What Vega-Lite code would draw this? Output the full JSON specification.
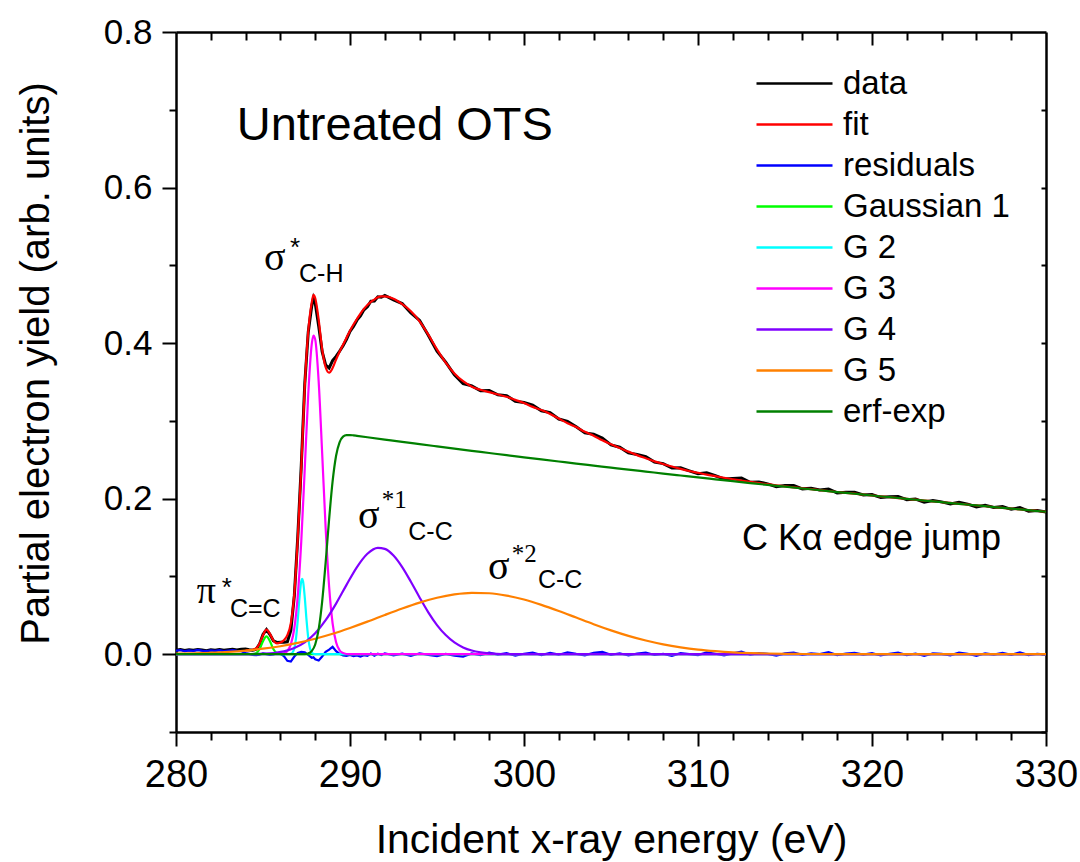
{
  "$schema": "https://vega.github.io/schema/vega-lite/v6.json",
  "width": 870,
  "height": 700,
  "autosize": "none",
  "padding": {"left": 176, "top": 32, "right": 34, "bottom": 130},
  "background": "white",
  "config": {
    "view": {"stroke": null},
    "axis": {"labelFont": "Liberation Sans", "titleFont": "Liberation Sans", "domainColor": "black", "tickColor": "black", "labelColor": "black", "titleColor": "black", "tickWidth": 2, "domainWidth": 2.5, "grid": false, "titleFontWeight": "normal"},
    "text": {"color": "black"}
  },
  "data": {"values": [
    {"x":280,"d":0.0052,"r":0.0047,"g1":0,"g2":0,"g3":0,"g4":0,"g5":0.0007,"e":0},
    {"x":280.25,"d":0.0060,"r":0.0054},
    {"x":280.5,"d":0.0047,"r":0.0041},
    {"x":280.75,"d":0.0056,"r":0.0050},
    {"x":281,"d":0.0050,"r":0.0044,"g5":0.0011},
    {"x":281.25,"d":0.0061,"r":0.0055},
    {"x":281.5,"d":0.0053,"r":0.0046},
    {"x":281.75,"d":0.0046,"r":0.0039},
    {"x":282,"d":0.0058,"r":0.0051,"g5":0.0019},
    {"x":282.25,"d":0.0052,"r":0.0044},
    {"x":282.5,"d":0.0060,"r":0.0052},
    {"x":282.75,"d":0.0050,"r":0.0041},
    {"x":283,"d":0.0057,"r":0.0047,"g5":0.0030},
    {"x":283.25,"d":0.0063,"r":0.0052},
    {"x":283.5,"d":0.0055,"r":0.0042},
    {"x":283.75,"d":0.0064,"r":0.0038},
    {"x":284,"d":0.0066,"f":0.0050,"r":0.0016,"g4":0.0001,"g5":0.0047},
    {"x":284.2,"d":0.0057,"f":0.0053,"r":0.0004,"g1":0},
    {"x":284.4,"d":0.0050,"f":0.0058,"r":-0.0008,"g1":0.0001},
    {"x":284.6,"d":0.0063,"f":0.0075,"r":-0.0012,"g1":0.0013},
    {"x":284.8,"d":0.0129,"f":0.0135,"r":-0.0006,"g1":0.0064},
    {"x":285,"d":0.0255,"f":0.0245,"r":0.0010,"g1":0.0167,"g4":0.0007,"g5":0.0071},
    {"x":285.2,"d":0.0317,"f":0.0315,"r":0.0002,"g1":0.023},
    {"x":285.4,"d":0.0252,"f":0.0262,"r":-0.0010,"g1":0.0167},
    {"x":285.6,"d":0.0171,"f":0.0175,"r":-0.0004,"g1":0.0064,"g4":0.0016},
    {"x":285.8,"d":0.0152,"f":0.0140,"r":0.0012,"g1":0.0013,"g3":0},
    {"x":286,"d":0.0155,"f":0.0150,"r":0.0005,"g1":0.0001,"g3":0.0003,"g5":0.0103},
    {"x":286.2,"d":0.0155,"f":0.0180,"r":-0.0025,"g1":0,"g3":0.0011,"g4":0.0037},
    {"x":286.4,"d":0.0160,"f":0.0245,"r":-0.0085,"g2":0,"g3":0.0040},
    {"x":286.6,"d":0.0305,"f":0.0400,"r":-0.0095,"g2":0.0005,"g3":0.0126},
    {"x":286.7,"g2":0.0022},
    {"x":286.8,"d":0.0750,"f":0.0780,"r":-0.0030,"g2":0.0077,"g3":0.0334,"g4":0.0079},
    {"x":286.9,"g2":0.0210},
    {"x":287,"d":0.1515,"f":0.1500,"r":0.0015,"g2":0.0444,"g3":0.0754,"g5":0.0146},
    {"x":287.1,"g2":0.0732},
    {"x":287.2,"d":0.2430,"f":0.2400,"r":0.0030,"g2":0.0940,"g3":0.1454,"e":0},
    {"x":287.25,"g2":0.097},
    {"x":287.3,"g2":0.0940},
    {"x":287.4,"d":0.3475,"f":0.3450,"r":0.0025,"g2":0.0732,"g3":0.2386,"g4":0.0152,"e":0.0002},
    {"x":287.5,"g2":0.0444},
    {"x":287.6,"d":0.4140,"f":0.4150,"r":-0.0010,"g2":0.0210,"g3":0.3340,"e":0.0010},
    {"x":287.7,"g2":0.0077},
    {"x":287.8,"d":0.4475,"f":0.4520,"r":-0.0045,"g2":0.0022,"g3":0.3984,"e":0.0039},
    {"x":287.9,"d":0.4580,"f":0.4620,"r":-0.0040,"g2":0.0005,"g3":0.4097},
    {"x":288,"d":0.4515,"f":0.4580,"r":-0.0065,"g2":0.0001,"g3":0.4048,"g4":0.0269,"g5":0.0199,"e":0.0125},
    {"x":288.2,"d":0.4220,"f":0.4300,"r":-0.0080,"g2":0,"g3":0.3505,"e":0.0322},
    {"x":288.4,"d":0.3890,"f":0.3920,"r":-0.0030,"g3":0.2586,"e":0.0677},
    {"x":288.6,"d":0.3720,"f":0.3690,"r":0.0030,"g3":0.1626,"g4":0.0437,"e":0.1179},
    {"x":288.8,"d":0.3680,"f":0.3620,"r":0.0060,"g3":0.0871,"e":0.1736},
    {"x":289,"d":0.3775,"f":0.3680,"r":0.0095,"g3":0.0398,"g5":0.0263,"e":0.2221},
    {"x":289.2,"d":0.3830,"f":0.3790,"r":0.0040,"g3":0.0155,"g4":0.0651,"e":0.2552},
    {"x":289.4,"d":0.3895,"f":0.3890,"r":0.0005,"g3":0.0051,"e":0.2725},
    {"x":289.6,"d":0.3965,"f":0.3980,"r":-0.0015,"g3":0.0015,"e":0.2798},
    {"x":289.8,"d":0.4050,"f":0.4070,"r":-0.0020,"g3":0.0003,"g4":0.0892,"e":0.2818},
    {"x":290,"d":0.4150,"f":0.4160,"r":-0.0010,"g3":0,"g5":0.0338,"e":0.2818},
    {"x":290.2,"d":0.4215,"f":0.4240,"r":-0.0025,"e":0.2814},
    {"x":290.4,"d":0.4295,"f":0.4310,"r":-0.0015,"g4":0.1121,"e":0.2808},
    {"x":290.6,"d":0.4350,"f":0.4380,"r":-0.0030},
    {"x":290.8,"d":0.4428,"f":0.4440,"r":-0.0012},
    {"x":291,"d":0.4468,"f":0.4490,"r":-0.0022,"g4":0.1292,"g5":0.0419,"e":0.2790},
    {"x":291.2,"d":0.4538,"f":0.4530,"r":0.0008},
    {"x":291.4,"d":0.4542,"f":0.4560,"r":-0.0018},
    {"x":291.6,"d":0.4596,"f":0.4590,"r":0.0006,"g4":0.1368},
    {"x":291.8,"d":0.4590,"f":0.4600,"r":-0.0010},
    {"x":292,"d":0.4612,"f":0.4600,"r":0.0012,"g4":0.1355,"g5":0.0505,"e":0.2760},
    {"x":292.5,"d":0.4555,"f":0.457,"r":-0.0015,"g4":0.1270},
    {"x":293,"d":0.4508,"f":0.450,"r":0.0008,"g4":0.1121,"g5":0.0588,"e":0.2730},
    {"x":293.5,"d":0.4388,"f":0.441,"r":-0.0022,"g4":0.0932},
    {"x":294,"d":0.4292,"f":0.428,"r":0.0012,"g4":0.0730,"g5":0.0664,"e":0.2701},
    {"x":294.5,"d":0.4102,"f":0.411,"r":-0.0008,"g4":0.0539},
    {"x":295,"d":0.3895,"f":0.392,"r":-0.0025,"g4":0.0375,"g5":0.0726,"e":0.2672},
    {"x":295.5,"d":0.3755,"f":0.375,"r":0.0005,"g4":0.0246},
    {"x":296,"d":0.3592,"f":0.361,"r":-0.0018,"g4":0.0152,"g5":0.0769,"e":0.2643},
    {"x":296.5,"d":0.3480,"f":0.351,"r":-0.0030,"g4":0.0088},
    {"x":297,"d":0.3450,"f":0.344,"r":0.0010,"g4":0.0048,"g5":0.0789,"e":0.2615},
    {"x":297.5,"d":0.3388,"f":0.340,"r":-0.0012,"g4":0.0025},
    {"x":298,"d":0.3390,"f":0.337,"r":0.0020,"g4":0.0012,"g5":0.0784,"e":0.2587},
    {"x":298.5,"d":0.3335,"f":0.334,"r":-0.0005},
    {"x":299,"d":0.3324,"f":0.331,"r":0.0014,"g4":0.0002,"g5":0.0754,"e":0.2559},
    {"x":299.5,"d":0.3252,"f":0.327,"r":-0.0018},
    {"x":300,"d":0.3236,"f":0.323,"r":0.0006,"g4":0,"g5":0.0703,"e":0.2532},
    {"x":300.5,"d":0.3202,"f":0.318,"r":0.0022},
    {"x":301,"d":0.3130,"f":0.314,"r":-0.0010,"g5":0.0635,"e":0.2505},
    {"x":301.5,"d":0.3106,"f":0.309,"r":0.0016},
    {"x":302,"d":0.3024,"f":0.303,"r":-0.0006,"g5":0.0556,"e":0.2478},
    {"x":302.5,"d":0.2995,"f":0.297,"r":0.0025},
    {"x":303,"d":0.2924,"f":0.292,"r":0.0004,"g5":0.0471,"e":0.2451},
    {"x":303.5,"d":0.2846,"f":0.286,"r":-0.0014},
    {"x":304,"d":0.2828,"f":0.281,"r":0.0018,"g5":0.0386,"e":0.2425},
    {"x":304.5,"d":0.2780,"f":0.275,"r":0.0030},
    {"x":305,"d":0.2692,"f":0.270,"r":-0.0008,"g5":0.0307,"e":0.2399},
    {"x":305.5,"d":0.2662,"f":0.265,"r":0.0012},
    {"x":306,"d":0.2589,"f":0.2605,"r":-0.0016,"g5":0.0236,"e":0.2373},
    {"x":306.5,"d":0.2568,"f":0.256,"r":0.0008},
    {"x":307,"d":0.2540,"f":0.252,"r":0.0020,"g5":0.0176,"e":0.2348},
    {"x":307.5,"d":0.2470,"f":0.248,"r":-0.0010},
    {"x":308,"d":0.2451,"f":0.2446,"r":0.0005,"g5":0.0127,"e":0.2323},
    {"x":308.5,"d":0.2393,"f":0.2413,"r":-0.0020},
    {"x":309,"d":0.2397,"f":0.2383,"r":0.0014,"g5":0.0089,"e":0.2298},
    {"x":309.5,"d":0.2358,"f":0.2356,"r":0.0002},
    {"x":310,"d":0.2321,"f":0.2333,"r":-0.0012,"g5":0.0060,"e":0.2273},
    {"x":310.5,"d":0.2333,"f":0.2309,"r":0.0024},
    {"x":311,"d":0.2295,"f":0.2289,"r":0.0006,"g5":0.0040,"e":0.2249},
    {"x":311.5,"d":0.2254,"f":0.2269,"r":-0.0015},
    {"x":312,"d":0.2260,"f":0.2250,"r":0.0010,"g5":0.0025,"e":0.2225},
    {"x":312.5,"d":0.2265,"f":0.2233,"r":0.0032},
    {"x":313,"d":0.2210,"f":0.2216,"r":-0.0006,"g5":0.0015,"e":0.2201},
    {"x":313.5,"d":0.2215,"f":0.2200,"r":0.0015},
    {"x":314,"d":0.2190,"f":0.2186,"r":0.0004,"g5":0.0009,"e":0.2177},
    {"x":314.5,"d":0.2153,"f":0.2171,"r":-0.0018},
    {"x":315,"d":0.2169,"f":0.2159,"r":0.0010,"g5":0.0005,"e":0.2154},
    {"x":315.5,"d":0.2168,"f":0.2146,"r":0.0022},
    {"x":316,"d":0.2126,"f":0.2134,"r":-0.0008,"g5":0.0003,"e":0.2131},
    {"x":316.5,"d":0.2134,"f":0.2122,"r":0.0012},
    {"x":317,"d":0.2113,"f":0.2110,"r":0.0003,"e":0.2108},
    {"x":317.5,"d":0.2124,"f":0.2098,"r":0.0026},
    {"x":318,"d":0.2074,"f":0.2086,"r":-0.0012,"g5":0.0001,"e":0.2085},
    {"x":318.5,"d":0.2083,"f":0.2075,"r":0.0008},
    {"x":319,"d":0.2082,"f":0.2064,"r":0.0018,"e":0.2063},
    {"x":319.5,"d":0.2047,"f":0.2052,"r":-0.0005},
    {"x":320,"d":0.2054,"f":0.2041,"r":0.0013,"e":0.2041},
    {"x":320.5,"d":0.2014,"f":0.2030,"r":-0.0016},
    {"x":321,"d":0.2025,"f":0.2019,"r":0.0006,"e":0.2019},
    {"x":321.5,"d":0.2029,"f":0.2008,"r":0.0021},
    {"x":322,"d":0.1987,"f":0.1997,"r":-0.0010,"e":0.1997},
    {"x":322.5,"d":0.1996,"f":0.1987,"r":0.0009},
    {"x":323,"d":0.1954,"f":0.1976,"r":-0.0022,"e":0.1976},
    {"x":323.5,"d":0.1977,"f":0.1966,"r":0.0011},
    {"x":324,"d":0.1959,"f":0.1955,"r":0.0004,"e":0.1955},
    {"x":324.5,"d":0.1931,"f":0.1945,"r":-0.0014},
    {"x":325,"d":0.1954,"f":0.1934,"r":0.0020,"e":0.1934},
    {"x":325.5,"d":0.1930,"f":0.1924,"r":0.0006},
    {"x":326,"d":0.1893,"f":0.1913,"r":-0.0020,"e":0.1913},
    {"x":326.5,"d":0.1915,"f":0.1903,"r":0.0012},
    {"x":327,"d":0.1887,"f":0.1892,"r":-0.0005,"e":0.1892},
    {"x":327.5,"d":0.1898,"f":0.1882,"r":0.0016},
    {"x":328,"d":0.1863,"f":0.1872,"r":-0.0009,"e":0.1872},
    {"x":328.5,"d":0.1886,"f":0.1862,"r":0.0024},
    {"x":329,"d":0.1840,"f":0.1852,"r":-0.0012,"e":0.1852},
    {"x":329.5,"d":0.1848,"f":0.1842,"r":0.0006},
    {"x":330,"d":0.1828,"f":0.1832,"r":-0.0004,"g1":0,"g2":0,"g3":0,"g4":0,"g5":0,"e":0.1832}
  ]},
  "layer": [
    {
      "mark": {"type": "line", "strokeWidth": 3, "invalid": "filter"},
      "encoding": {
        "x": {"field": "x", "type": "quantitative", "scale": {"domain": [280, 330], "nice": false, "zero": false},
          "axis": {"orient": "bottom", "values": [280, 290, 300, 310, 320, 330], "format": "d", "tickSize": 14, "labelFontSize": 38, "labelPadding": 10, "labelFlush": false, "labelOverlap": false, "title": "Incident x-ray energy (eV)", "titleFontSize": 41, "titleY": 120, "titleBaseline": "alphabetic"}},
        "y": {"field": "d", "type": "quantitative", "scale": {"domain": [-0.1, 0.8], "nice": false, "zero": false},
          "axis": {"orient": "left", "values": [0, 0.2, 0.4, 0.6, 0.8], "format": ".1f", "tickSize": 14, "labelFontSize": 35, "labelPadding": 10, "labelFlush": false, "labelOverlap": false, "title": "Partial electron yield (arb. units)", "titleFontSize": 40, "titleAngle": 270, "titleAlign": "center", "titleBaseline": "alphabetic", "titleX": -128, "titleY": 331}},
        "color": {"datum": "data",
          "scale": {"domain": ["data", "fit", "residuals", "Gaussian 1", "G 2", "G 3", "G 4", "G 5", "erf-exp"],
                    "range": ["#000000", "#ff0000", "#0000ff", "#00ff00", "#00ffff", "#ff00ff", "#8000ff", "#ff8000", "#008000"]},
          "legend": {"orient": "none", "legendX": 602, "legendY": 35, "title": null, "symbolType": "M-4,0H4", "symbolSize": 361, "symbolStrokeWidth": 2.5, "labelFont": "Liberation Sans", "labelFontSize": 33, "labelColor": "black", "labelOffset": 32, "rowPadding": 7, "padding": 0, "labelLimit": 400}}
      }
    },
    {
      "mark": {"type": "line", "strokeWidth": 2.2, "interpolate": "monotone", "invalid": "filter"},
      "encoding": {
        "x": {"field": "x", "type": "quantitative", "scale": {"domain": [280, 330], "nice": false, "zero": false},
          "axis": {"orient": "bottom", "values": [282, 284, 286, 288, 292, 294, 296, 298, 302, 304, 306, 308, 312, 314, 316, 318, 322, 324, 326, 328], "tickSize": 8, "labels": false, "domain": false, "title": null}},
        "y": {"field": "f", "type": "quantitative", "scale": {"domain": [-0.1, 0.8], "nice": false, "zero": false},
          "axis": {"orient": "left", "values": [-0.1, 0.1, 0.3, 0.5, 0.7], "tickSize": 7, "labels": false, "domain": false, "title": null}},
        "color": {"datum": "fit"}
      }
    },
    {
      "mark": {"type": "line", "strokeWidth": 2.2, "invalid": "filter"},
      "encoding": {
        "x": {"field": "x", "type": "quantitative", "scale": {"domain": [280, 330], "nice": false, "zero": false},
          "axis": {"orient": "top", "values": [290, 300, 310, 320], "tickSize": -13, "labels": false, "domain": true, "title": null}},
        "y": {"field": "r", "type": "quantitative", "scale": {"domain": [-0.1, 0.8], "nice": false, "zero": false},
          "axis": {"orient": "right", "values": [-0.1, 0, 0.1, 0.2, 0.3, 0.4, 0.5, 0.6, 0.7], "tickSize": -5, "labels": false, "domain": true, "title": null}},
        "color": {"datum": "residuals"}
      }
    },
    {
      "mark": {"type": "line", "strokeWidth": 2.2, "interpolate": "monotone", "invalid": "filter"},
      "encoding": {
        "x": {"field": "x", "type": "quantitative", "scale": {"domain": [280, 330], "nice": false, "zero": false},
          "axis": {"orient": "top", "values": [282, 284, 286, 288, 292, 294, 296, 298, 302, 304, 306, 308, 312, 314, 316, 318, 322, 324, 326, 328], "tickSize": -8, "labels": false, "domain": false, "title": null}},
        "y": {"field": "g1", "type": "quantitative", "scale": {"domain": [-0.1, 0.8], "nice": false, "zero": false}, "axis": null},
        "color": {"datum": "Gaussian 1"}
      }
    },
    {
      "mark": {"type": "line", "strokeWidth": 2.2, "interpolate": "monotone", "invalid": "filter"},
      "encoding": {
        "x": {"field": "x", "type": "quantitative", "scale": {"domain": [280, 330], "nice": false, "zero": false}, "axis": null},
        "y": {"field": "g2", "type": "quantitative", "scale": {"domain": [-0.1, 0.8], "nice": false, "zero": false}, "axis": null},
        "color": {"datum": "G 2"}
      }
    },
    {
      "mark": {"type": "line", "strokeWidth": 2.2, "interpolate": "monotone", "invalid": "filter"},
      "encoding": {
        "x": {"field": "x", "type": "quantitative", "scale": {"domain": [280, 330], "nice": false, "zero": false}, "axis": null},
        "y": {"field": "g3", "type": "quantitative", "scale": {"domain": [-0.1, 0.8], "nice": false, "zero": false}, "axis": null},
        "color": {"datum": "G 3"}
      }
    },
    {
      "mark": {"type": "line", "strokeWidth": 2.2, "interpolate": "monotone", "invalid": "filter"},
      "encoding": {
        "x": {"field": "x", "type": "quantitative", "scale": {"domain": [280, 330], "nice": false, "zero": false}, "axis": null},
        "y": {"field": "g4", "type": "quantitative", "scale": {"domain": [-0.1, 0.8], "nice": false, "zero": false}, "axis": null},
        "color": {"datum": "G 4"}
      }
    },
    {
      "mark": {"type": "line", "strokeWidth": 2.2, "interpolate": "monotone", "invalid": "filter"},
      "encoding": {
        "x": {"field": "x", "type": "quantitative", "scale": {"domain": [280, 330], "nice": false, "zero": false}, "axis": null},
        "y": {"field": "g5", "type": "quantitative", "scale": {"domain": [-0.1, 0.8], "nice": false, "zero": false}, "axis": null},
        "color": {"datum": "G 5"}
      }
    },
    {
      "mark": {"type": "line", "strokeWidth": 2.2, "interpolate": "monotone", "invalid": "filter"},
      "encoding": {
        "x": {"field": "x", "type": "quantitative", "scale": {"domain": [280, 330], "nice": false, "zero": false}, "axis": null},
        "y": {"field": "e", "type": "quantitative", "scale": {"domain": [-0.1, 0.8], "nice": false, "zero": false}, "axis": null},
        "color": {"datum": "erf-exp"}
      }
    },
    {"data": {"values": [{}]}, "mark": {"type": "text", "text": "Untreated OTS", "font": "Liberation Sans", "fontSize": 47, "align": "left", "baseline": "alphabetic"},
     "encoding": {"x": {"datum": 283.49, "type": "quantitative", "scale": {"domain": [280, 330], "nice": false, "zero": false}, "axis": null}, "y": {"datum": 0.661, "type": "quantitative", "scale": {"domain": [-0.1, 0.8], "nice": false, "zero": false}, "axis": null}}},
    {"data": {"values": [{}]}, "mark": {"type": "text", "text": "σ", "font": "Liberation Serif", "fontSize": 40, "align": "left", "baseline": "alphabetic"},
     "encoding": {"x": {"datum": 285.06, "type": "quantitative", "scale": {"domain": [280, 330], "nice": false, "zero": false}, "axis": null}, "y": {"datum": 0.4939, "type": "quantitative", "scale": {"domain": [-0.1, 0.8], "nice": false, "zero": false}, "axis": null}}},
    {"data": {"values": [{}]}, "mark": {"type": "text", "text": "*", "font": "Liberation Sans", "fontSize": 26, "align": "left", "baseline": "alphabetic"},
     "encoding": {"x": {"datum": 286.55, "type": "quantitative", "scale": {"domain": [280, 330], "nice": false, "zero": false}, "axis": null}, "y": {"datum": 0.512, "type": "quantitative", "scale": {"domain": [-0.1, 0.8], "nice": false, "zero": false}, "axis": null}}},
    {"data": {"values": [{}]}, "mark": {"type": "text", "text": "C-H", "font": "Liberation Sans", "fontSize": 25, "align": "left", "baseline": "alphabetic"},
     "encoding": {"x": {"datum": 287.07, "type": "quantitative", "scale": {"domain": [280, 330], "nice": false, "zero": false}, "axis": null}, "y": {"datum": 0.4785, "type": "quantitative", "scale": {"domain": [-0.1, 0.8], "nice": false, "zero": false}, "axis": null}}},
    {"data": {"values": [{}]}, "mark": {"type": "text", "text": "π", "font": "Liberation Serif", "fontSize": 38, "align": "left", "baseline": "alphabetic"},
     "encoding": {"x": {"datum": 281.19, "type": "quantitative", "scale": {"domain": [280, 330], "nice": false, "zero": false}, "axis": null}, "y": {"datum": 0.0656, "type": "quantitative", "scale": {"domain": [-0.1, 0.8], "nice": false, "zero": false}, "axis": null}}},
    {"data": {"values": [{}]}, "mark": {"type": "text", "text": "*", "font": "Liberation Sans", "fontSize": 26, "align": "left", "baseline": "alphabetic"},
     "encoding": {"x": {"datum": 282.63, "type": "quantitative", "scale": {"domain": [280, 330], "nice": false, "zero": false}, "axis": null}, "y": {"datum": 0.0755, "type": "quantitative", "scale": {"domain": [-0.1, 0.8], "nice": false, "zero": false}, "axis": null}}},
    {"data": {"values": [{}]}, "mark": {"type": "text", "text": "C=C", "font": "Liberation Sans", "fontSize": 25, "align": "left", "baseline": "alphabetic"},
     "encoding": {"x": {"datum": 283.1, "type": "quantitative", "scale": {"domain": [280, 330], "nice": false, "zero": false}, "axis": null}, "y": {"datum": 0.0476, "type": "quantitative", "scale": {"domain": [-0.1, 0.8], "nice": false, "zero": false}, "axis": null}}},
    {"data": {"values": [{}]}, "mark": {"type": "text", "text": "σ", "font": "Liberation Serif", "fontSize": 40, "align": "left", "baseline": "alphabetic"},
     "encoding": {"x": {"datum": 290.46, "type": "quantitative", "scale": {"domain": [280, 330], "nice": false, "zero": false}, "axis": null}, "y": {"datum": 0.1617, "type": "quantitative", "scale": {"domain": [-0.1, 0.8], "nice": false, "zero": false}, "axis": null}}},
    {"data": {"values": [{}]}, "mark": {"type": "text", "text": "*1", "font": "Liberation Serif", "fontSize": 25, "align": "left", "baseline": "alphabetic"},
     "encoding": {"x": {"datum": 291.82, "type": "quantitative", "scale": {"domain": [280, 330], "nice": false, "zero": false}, "axis": null}, "y": {"datum": 0.1878, "type": "quantitative", "scale": {"domain": [-0.1, 0.8], "nice": false, "zero": false}, "axis": null}}},
    {"data": {"values": [{}]}, "mark": {"type": "text", "text": "C-C", "font": "Liberation Sans", "fontSize": 25, "align": "left", "baseline": "alphabetic"},
     "encoding": {"x": {"datum": 293.35, "type": "quantitative", "scale": {"domain": [280, 330], "nice": false, "zero": false}, "axis": null}, "y": {"datum": 0.1466, "type": "quantitative", "scale": {"domain": [-0.1, 0.8], "nice": false, "zero": false}, "axis": null}}},
    {"data": {"values": [{}]}, "mark": {"type": "text", "text": "σ", "font": "Liberation Serif", "fontSize": 40, "align": "left", "baseline": "alphabetic"},
     "encoding": {"x": {"datum": 297.93, "type": "quantitative", "scale": {"domain": [280, 330], "nice": false, "zero": false}, "axis": null}, "y": {"datum": 0.0965, "type": "quantitative", "scale": {"domain": [-0.1, 0.8], "nice": false, "zero": false}, "axis": null}}},
    {"data": {"values": [{}]}, "mark": {"type": "text", "text": "*2", "font": "Liberation Serif", "fontSize": 25, "align": "left", "baseline": "alphabetic"},
     "encoding": {"x": {"datum": 299.29, "type": "quantitative", "scale": {"domain": [280, 330], "nice": false, "zero": false}, "axis": null}, "y": {"datum": 0.1187, "type": "quantitative", "scale": {"domain": [-0.1, 0.8], "nice": false, "zero": false}, "axis": null}}},
    {"data": {"values": [{}]}, "mark": {"type": "text", "text": "C-C", "font": "Liberation Sans", "fontSize": 25, "align": "left", "baseline": "alphabetic"},
     "encoding": {"x": {"datum": 300.8, "type": "quantitative", "scale": {"domain": [280, 330], "nice": false, "zero": false}, "axis": null}, "y": {"datum": 0.0849, "type": "quantitative", "scale": {"domain": [-0.1, 0.8], "nice": false, "zero": false}, "axis": null}}},
    {"data": {"values": [{}]}, "mark": {"type": "text", "text": "C Kα edge jump", "font": "Liberation Sans", "fontSize": 36, "align": "left", "baseline": "alphabetic"},
     "encoding": {"x": {"datum": 312.53, "type": "quantitative", "scale": {"domain": [280, 330], "nice": false, "zero": false}, "axis": null}, "y": {"datum": 0.1338, "type": "quantitative", "scale": {"domain": [-0.1, 0.8], "nice": false, "zero": false}, "axis": null}}}
  ],
  "resolve": {"axis": {"x": "independent", "y": "independent"}}
}
